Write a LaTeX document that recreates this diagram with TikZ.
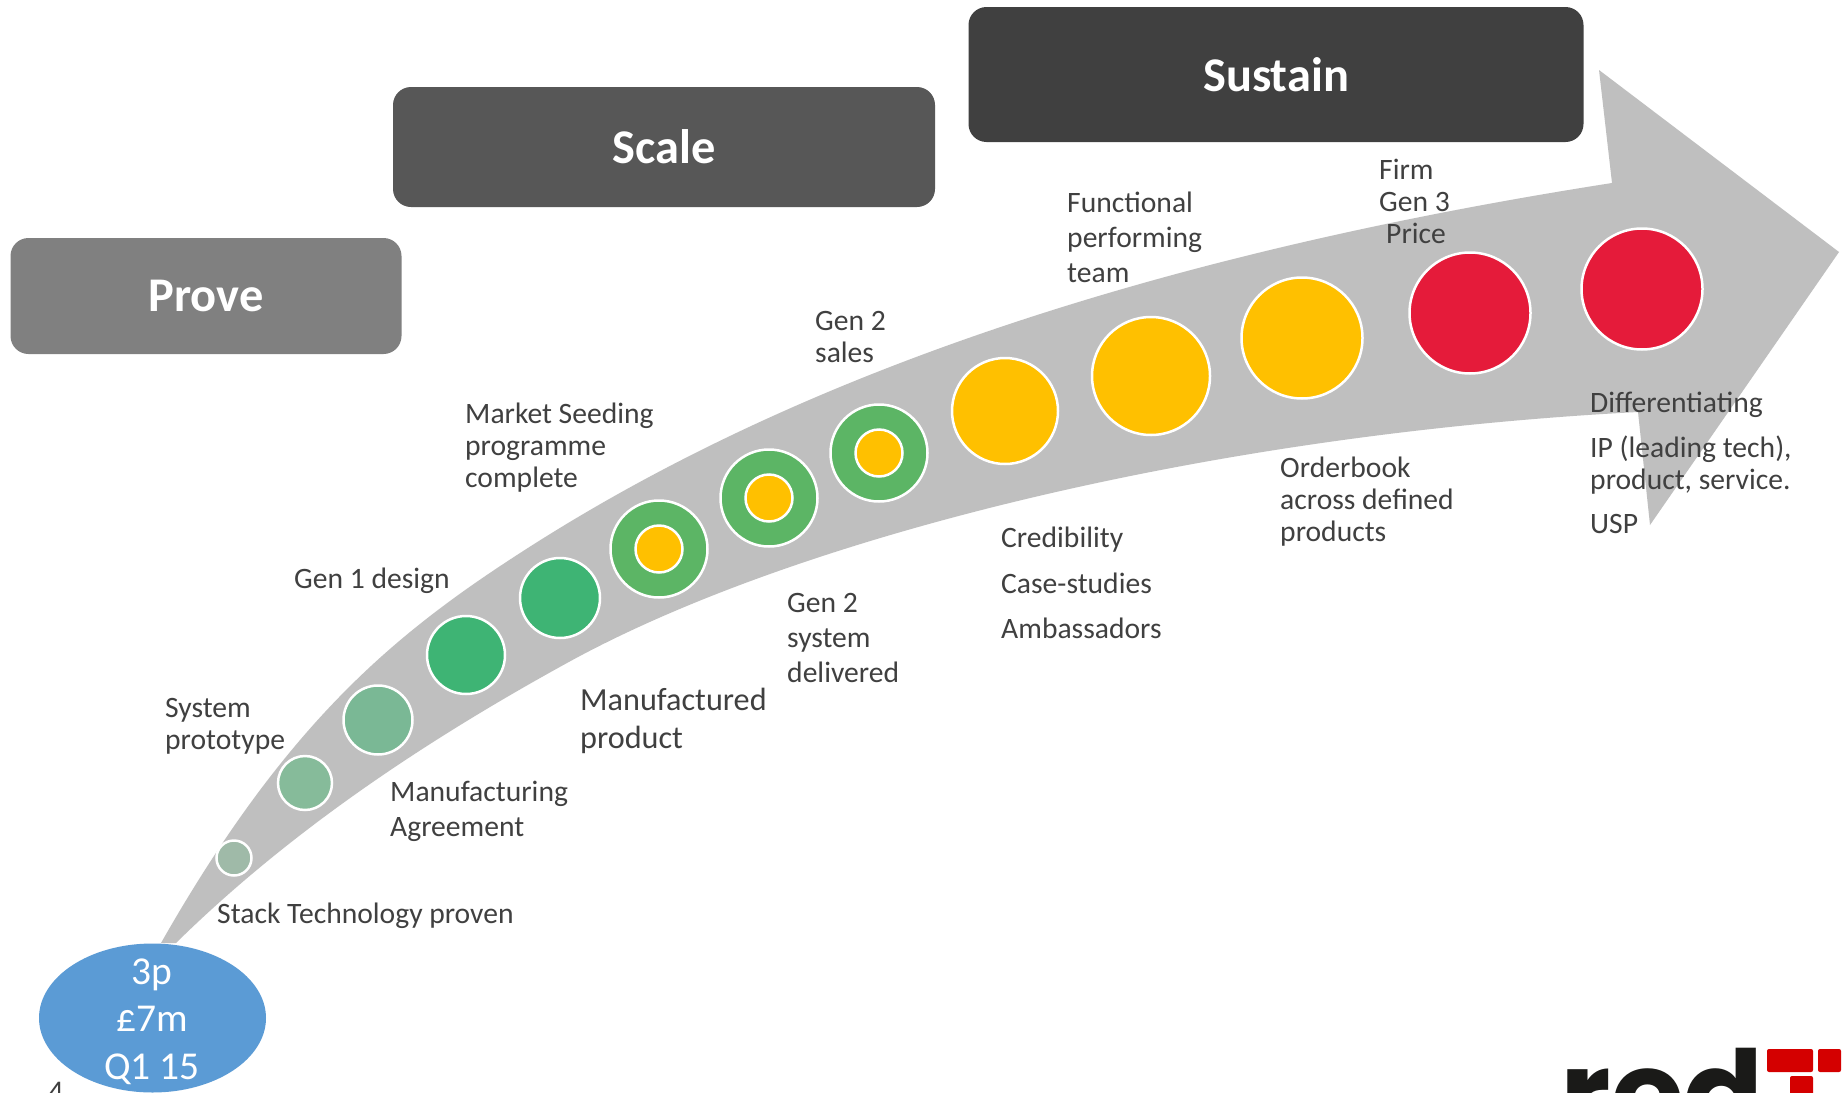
\documentclass[tikz,border=0pt]{standalone}
\usepackage{fontspec}
\usetikzlibrary{shapes.geometric}
\setmainfont{Carlito}
\newfontfamily\logofont{Poppins}
\definecolor{arrowgrey}{HTML}{BFBFBF}
\definecolor{txt}{HTML}{404040}
\definecolor{ringgreen}{HTML}{5CB565}
\definecolor{amber}{HTML}{FFC000}
\definecolor{hotred}{HTML}{E51B3A}
\definecolor{blob}{HTML}{5B9BD5}
\definecolor{logored}{HTML}{D40000}
\definecolor{logoblack}{HTML}{1A1A18}
\tikzset{
  x=1pt,y=-1pt,
  dot/.style={circle,draw=white,line width=2.5pt,inner sep=0pt,minimum size=#1},
  lab/.style={anchor=west,align=left,inner sep=0pt,text=txt,font=\fontsize{29.6}{#1}\selectfont},
  lab/.default=32,
  phase/.style={draw=none,rounded corners=18pt,text=white,font=\fontsize{48.4}{54}\selectfont\bfseries,inner sep=0pt,align=center},
  logoblock/.style={fill=logored,rounded corners=2pt}
}
\begin{document}
\begin{tikzpicture}
\clip (0,0) rectangle (1844,1092);
\fill[white] (0,0) rectangle (1844,1092);
% sweeping arrow
\fill[arrowgrey]
  (161,943) .. controls (285,725) and (392,636) .. (517,555)
  .. controls (760,397) and (1100,263) .. (1612,183)
  -- (1599,70) -- (1839,252) -- (1650,525) -- (1638,412)
  .. controls (1200,435) and (790,540) .. (567,663)
  .. controls (437,734.5) and (296,825) .. (176,943)
  -- cycle;
% phase boxes
\node[phase,fill=black!50,minimum width=391pt,minimum height=116pt] (prove) at (206,296) {Prove};
\node[phase,fill=black!66,minimum width=542pt,minimum height=120pt] (scale) at (664,147) {Scale};
\node[phase,fill=black!75,minimum width=615pt,minimum height=135pt] (sustain) at (1276,74.5) {Sustain};
% milestones
\node[dot=35pt,fill={rgb,255:red,159;green,186;blue,168}] (m1) at (234,858) {};
\node[dot=54pt,fill={rgb,255:red,134;green,187;blue,154}] (m2) at (305,783) {};
\node[dot=69pt,fill={rgb,255:red,122;green,184;blue,149}] (m3) at (378,720) {};
\node[dot=78pt,fill={rgb,255:red,62;green,180;blue,116}] (m4) at (466,655) {};
\node[dot=80pt,fill={rgb,255:red,62;green,180;blue,116}] (m5) at (560,598) {};
\foreach \n/\x/\y in {m6/659/549,m7/769/498,m8/879/453}{
  \node[dot=97pt,fill=ringgreen] (\n) at (\x,\y) {};
  \node[dot=47pt,fill=amber] (\n i) at (\x,\y) {};
}
\node[dot=106pt,fill=amber] (m9) at (1005,411) {};
\node[dot=118pt,fill=amber] (m10) at (1151,376) {};
\node[dot=121pt,fill=amber] (m11) at (1302,338) {};
\node[dot=121pt,fill=hotred] (m12) at (1470,313) {};
\node[dot=121pt,fill=hotred] (m13) at (1642,289) {};
% start ellipse
\node[ellipse,fill=blob,minimum width=227pt,minimum height=149pt,inner sep=0pt] (start) at (152.5,1018) {};
\node[text=white,font=\fontsize{39.5}{47.5}\selectfont,align=center,inner sep=0pt] (startlabel) at (152,1021.5) {3p\\£7m\\Q1 15};
% labels
\node[lab] (l1) at (165,726) {System\\prototype};
\node[lab] (l2) at (217,916) {Stack Technology proven};
\node[lab=35] (l3) at (390,811) {Manufacturing\\Agreement};
\node[lab] (l4) at (294,581) {Gen 1 design};
\node[lab] (l5) at (465,448) {Market Seeding\\programme\\complete};
\node[lab=38,font=\fontsize{32.2}{38}\selectfont] (l6) at (580,721) {Manufactured\\product};
\node[lab=35] (l7) at (787,638) {Gen 2\\system\\delivered};
\node[lab] (l8) at (815,337) {Gen 2\\sales};
\node[lab=35] (l9) at (1067,237.5) {Functional\\performing\\team};
\node[lab] (l10) at (1379,201) {Firm\\Gen 3\\\hspace*{7pt}Price};
\node[lab=45.5] (l11) at (1001,583) {Credibility\\Case-studies\\Ambassadors};
\node[lab] (l12) at (1280,501.5) {Orderbook\\across defined\\products};
\node[lab] (l13) at (1590,405) {Differentiating};
\node[lab] (l14) at (1590,465) {IP (leading tech),\\product, service.};
\node[lab] (l15) at (1590,524) {USP};
% page number, clipped by the page edge
\node[anchor=base,inner sep=0pt,text=txt,font=\fontsize{30}{30}\selectfont] (pagenum) at (56,1101) {4};
% logo, clipped by the page edge
\node[anchor=base east,inner sep=0pt,text=logoblack,font=\fontsize{118}{118}\selectfont\logofont\bfseries] (logo) at (1764,1135) {red};
\fill[logoblock] (1767,1049) rectangle (1813,1072);
\fill[logoblock] (1818,1049) rectangle (1841,1072);
\fill[logoblock] (1790,1076) rectangle (1813,1100);
\end{tikzpicture}
\end{document}
